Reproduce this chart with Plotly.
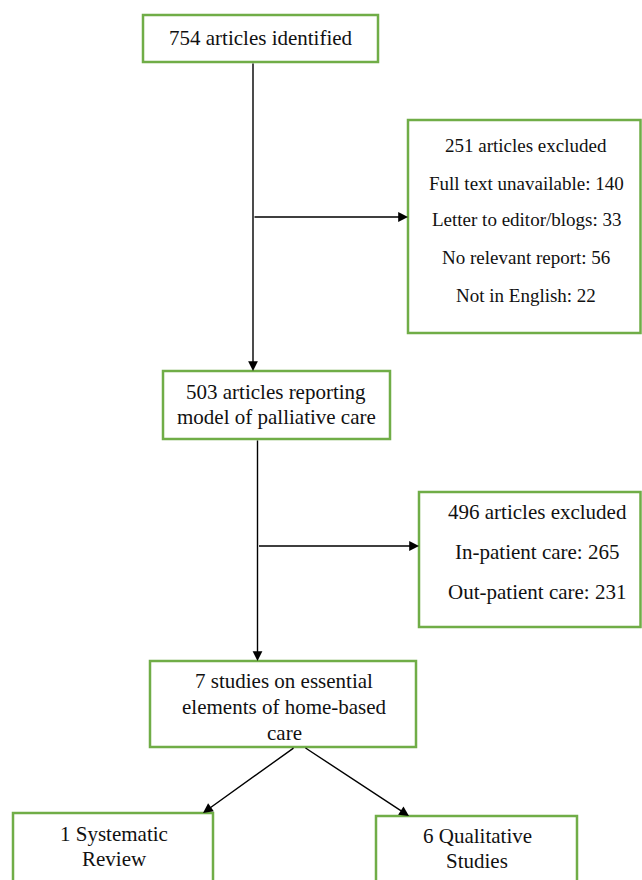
import plotly.graph_objects as go

identified_total = 754
excluded_first_total = 251
excluded_first_reasons = ["Full text unavailable", "Letter to editor/blogs", "No relevant report", "Not in English"]
excluded_first_counts = [140, 33, 56, 22]
included_total = 503
excluded_second_total = 496
excluded_second_reasons = ["In-patient care", "Out-patient care"]
excluded_second_counts = [265, 231]
final_total = 7
final_split_labels = [["1 Systematic", "Review"], ["6 Qualitative", "Studies"]]

# ---- text built from data ----
box_texts = {
    "b1": [f"{identified_total} articles identified"],
    "b2": [f"{excluded_first_total} articles excluded"]
          + [f"{r}: {c}" for r, c in zip(excluded_first_reasons, excluded_first_counts)],
    "b3": [f"{included_total} articles reporting", "model of palliative care"],
    "b4": [f"{excluded_second_total} articles excluded"]
          + [f"{r}: {c}" for r, c in zip(excluded_second_reasons, excluded_second_counts)],
    "b5": [f"{final_total} studies on essential", "elements of home-based", "care"],
    "b6": final_split_labels[0],
    "b7": final_split_labels[1],
}

# ---- layout geometry (pixel-like coordinates on hidden axes) ----
boxes = {
    "b1": dict(x0=143, x1=378, y0=15, y1=62),
    "b2": dict(x0=408, x1=640.5, y0=120, y1=333),
    "b3": dict(x0=163, x1=390, y0=371, y1=439),
    "b4": dict(x0=419, x1=640.5, y0=492, y1=627),
    "b5": dict(x0=150, x1=416, y0=661, y1=747),
    "b6": dict(x0=13, x1=213, y0=813, y1=890),
    "b7": dict(x0=376, x1=577, y0=816, y1=890),
}
text_pos = {
    "b1": (261, [38]),
    "b2": (526, [145, 183, 219, 257, 295]),
    "b3": (276, [392, 417]),
    "b4": (537, [512, 552, 592]),
    "b5": (284, [681, 707, 733]),
    "b6": (114, [834, 859]),
    "b7": (477, [836, 861]),
}
font_sizes = {"b2": 19}

GREEN = "#70AD47"

fig = go.Figure()
fig.add_trace(go.Scatter(x=[0, 642], y=[0, 880],
                         mode="markers", marker=dict(opacity=0), hoverinfo="skip", showlegend=False))

shapes = []
for k, b in boxes.items():
    shapes.append(dict(type="rect", xref="x", yref="y", **b,
                       line=dict(color=GREEN, width=2.5), fillcolor="white", layer="below"))

fig.update_layout(shapes=shapes)

annotations = []
for k, lines in box_texts.items():
    cx, ys = text_pos[k]
    for t, yy in zip(lines, ys):
        annotations.append(dict(x=cx, y=yy, xref="x", yref="y", text=t, showarrow=False,
                                xanchor="center", yanchor="middle",
                                font=dict(family="Liberation Serif, Times New Roman, serif",
                                          size=font_sizes.get(k, 21), color="#111111")))

def arrow(x0, y0, x1, y1):
    return dict(x=x1, y=y1, ax=x0, ay=y0, xref="x", yref="y", axref="x", ayref="y",
                text="", showarrow=True, arrowhead=2, arrowsize=1.4, arrowwidth=1.4,
                arrowcolor="black", standoff=0, startstandoff=0)

annotations += [
    arrow(253, 62, 253, 371),
    arrow(253, 217, 408, 217),
    arrow(257.5, 439, 257.5, 661),
    arrow(257.5, 546, 419, 546),
    arrow(295, 747, 203, 813),
    arrow(304, 747, 409, 816),
]

fig.update_layout(
    annotations=annotations,
    width=642, height=880,
    margin=dict(l=0, r=0, t=0, b=0),
    paper_bgcolor="white", plot_bgcolor="white",
    xaxis=dict(range=[0, 642], visible=False, fixedrange=True),
    yaxis=dict(range=[880, 0], visible=False, fixedrange=True),
    showlegend=False,
)

fig.write_html("out.html",
               config={"displayModeBar": False, "staticPlot": True},
               post_script="document.body.style.margin='0';document.body.style.overflow='hidden';")
